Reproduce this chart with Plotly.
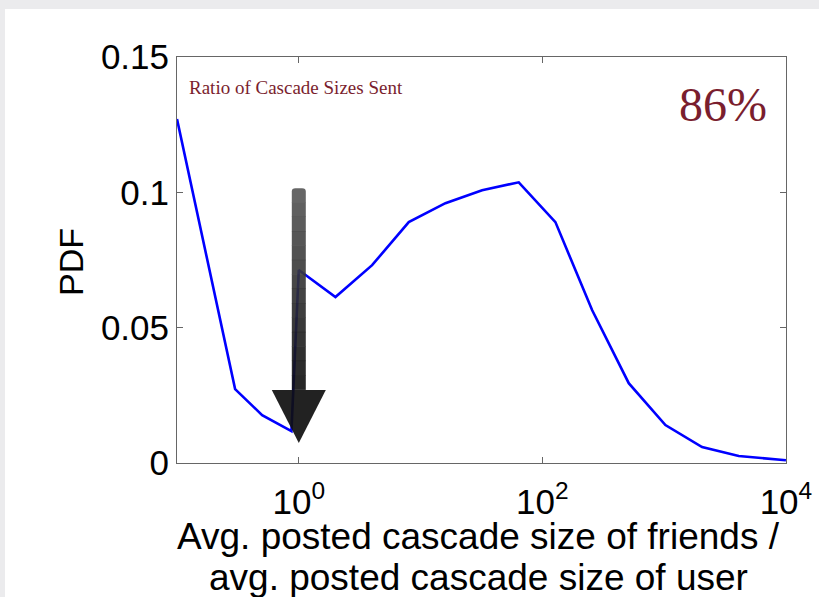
import plotly.graph_objects as go

# data
ratio = [0.1, 0.3, 0.5, 0.87, 1.0, 2, 4, 8, 16, 32, 64, 128, 256, 512, 1024, 2048, 4096, 10000]
pdf = [0.1271, 0.0273, 0.0177, 0.0118, 0.0713, 0.0613, 0.0731, 0.0890, 0.0960, 0.1008,
       0.1037, 0.0890, 0.0565, 0.0295, 0.0140, 0.0059, 0.0026, 0.0010]
y_ticks = [0, 0.05, 0.1, 0.15]
y_tick_text = ["0", "0.05", "0.1", "0.15"]
x_ticks = [1, 100, 10000]
x_tick_text = ["10<sup>0</sup>", "10<sup>2</sup>", "10<sup>4</sup>"]
x_title_lines = ["Avg. posted cascade size of friends /", "avg. posted cascade size of user"]
y_title = "PDF"

fig = go.Figure()
fig.add_trace(go.Scatter(x=ratio, y=pdf, mode="lines",
                         line=dict(color="#0000ff", width=2.6), showlegend=False,
                         hoverinfo="skip"))

shapes = []
# white panel over gray page
shapes.append(dict(type="rect", xref="paper", yref="paper", x0=-0.2824, x1=1.2,
                   y0=-0.5, y1=1.118, fillcolor="white", line=dict(width=0), layer="below"))

# arrow (paper coords)
cx = 0.2
sw = 7 / 609.0
hw = 27 / 609.0
y_top = 0.677
y_head = 0.180
y_tip = 0.049
n = 14
for i in range(n):
    ya = y_top - (y_top - y_head) * i / n
    yb = y_top - (y_top - y_head) * (i + 1) / n
    g = int(85 - 70 * i / (n - 1))
    col = "rgb(%d,%d,%d)" % (g, g, g)
    if i == 0:
        r = 0.008
        path = ("M %f,%f L %f,%f Q %f,%f %f,%f L %f,%f Q %f,%f %f,%f L %f,%f Z" % (
            cx - sw, yb, cx - sw, ya - r, cx - sw, ya, cx - sw + 0.006, ya,
            cx + sw - 0.006, ya, cx + sw, ya, cx + sw, ya - r, cx + sw, yb))
        shapes.append(dict(type="path", xref="paper", yref="paper", path=path,
                           fillcolor=col, line=dict(width=0), opacity=0.9, layer="above"))
    else:
        shapes.append(dict(type="rect", xref="paper", yref="paper",
                           x0=cx - sw, x1=cx + sw, y0=yb, y1=ya + 0.001,
                           fillcolor=col, line=dict(width=0), opacity=0.9, layer="above"))
head = "M %f,%f L %f,%f L %f,%f Z" % (cx - hw, y_head, cx + hw, y_head, cx, y_tip)
shapes.append(dict(type="path", xref="paper", yref="paper", path=head,
                   fillcolor="rgb(15,15,15)", line=dict(width=0), opacity=0.92, layer="above"))

annotations = [
    dict(text="Ratio of Cascade Sizes Sent", xref="paper", yref="paper",
         x=(187 - 177) / 609.0, y=(463 - 88) / 406.0, xanchor="left", yanchor="middle",
         showarrow=False, font=dict(family="Liberation Serif", size=19, color="#7a1e2e")),
    dict(text="86%", xref="paper", yref="paper",
         x=(769 - 177) / 609.0, y=(463 - 104) / 406.0, xanchor="right", yanchor="middle",
         showarrow=False, font=dict(family="Liberation Serif", size=48, color="#7a1e2e")),
    dict(text=x_title_lines[0], xref="paper", yref="paper", x=(478 - 177) / 609.0,
         y=(463 - 536) / 406.0, xanchor="center", yanchor="middle", showarrow=False,
         font=dict(family="Liberation Sans", size=37, color="black")),
    dict(text=x_title_lines[1], xref="paper", yref="paper", x=(478 - 177) / 609.0,
         y=(463 - 577) / 406.0, xanchor="center", yanchor="middle", showarrow=False,
         font=dict(family="Liberation Sans", size=37, color="black")),
    dict(text=y_title, xref="paper", yref="paper", x=(71 - 177) / 609.0,
         y=(463 - 262) / 406.0, xanchor="center", yanchor="middle", showarrow=False,
         textangle=-90, font=dict(family="Liberation Sans", size=34, color="black")),
]

axis_font = dict(family="Liberation Sans", size=35, color="black")
fig.update_layout(
    width=819, height=597,
    margin=dict(l=177, r=33, t=57, b=134),
    paper_bgcolor="#ebebed",
    plot_bgcolor="rgba(0,0,0,0)",
    shapes=shapes,
    annotations=annotations,
    font=axis_font,
    xaxis=dict(type="log", range=[-1, 4.0005], tickvals=x_ticks, ticktext=x_tick_text,
               automargin=False, ticklabelstandoff=8,
               showgrid=False, zeroline=False, showline=True, linecolor="#666", linewidth=1,
               mirror="ticks", ticks="inside", ticklen=6, tickcolor="#666",
               tickfont=axis_font),
    yaxis=dict(range=[0, 0.15], tickvals=y_ticks, ticktext=y_tick_text, automargin=False,
               showgrid=False, zeroline=False, showline=True, linecolor="#666", linewidth=1,
               mirror="ticks", ticks="inside", ticklen=6, tickcolor="#666",
               tickfont=axis_font),
)

fig.write_html("out.html")
